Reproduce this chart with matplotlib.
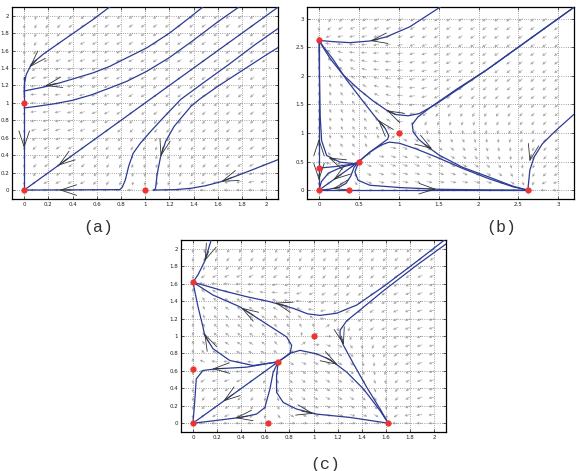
import numpy as np
import matplotlib
matplotlib.use('Agg')
import matplotlib.pyplot as plt

ALLEE_A = [2.0, 3.0, 2.236]
COMPETE_C = [1.0, 1.0, 0.2]
GRID_STEP = [0.1, 0.15, 0.1]
GRID_MAX = [2.0, 3.0, 2.0]

# panel (a)
A_EQ = [(0, 0), (1, 0), (0, 1)]
A_CURVE1 = [(0.738, 2.134), (0.572, 1.96), (0.433, 1.826), (0.294, 1.692), (0.155, 1.557),
            (0.058, 1.442), (0.017, 1.326), (0.003, 1.23), (0.0, 1.1)]
A_YAXIS = [(0.0, 1.3), (0.0, 0.0)]
A_CURVE2 = [(1.49, 2.115), (1.35, 1.96), (1.2, 1.8), (1.016, 1.634), (0.85, 1.519), (0.711, 1.422),
            (0.572, 1.346), (0.433, 1.288), (0.294, 1.23), (0.155, 1.18), (0.017, 1.142), (0.0, 1.135)]
A_CURVE3 = [(1.79, 2.115), (1.6, 1.93), (1.4, 1.72), (1.2, 1.52), (1.016, 1.365), (0.85, 1.249),
            (0.711, 1.173), (0.55, 1.09), (0.4, 1.03), (0.25, 0.99), (0.1, 0.96), (0.0, 0.942)]
A_DIAG = [(2.11, 2.11), (1.5, 1.5), (1.0, 1.0), (0.5, 0.5), (0.0, 0.0)]
A_CURVE5 = [(2.11, 1.865), (1.9, 1.66), (1.7, 1.45), (1.5, 1.25), (1.294, 1.04), (1.15, 0.83),
            (1.05, 0.68), (0.961, 0.539), (0.9, 0.42), (0.863, 0.269), (0.836, 0.115), (0.81, 0.03),
            (0.79, 0.005), (0.0, 0.0)]
A_CURVE6 = [(2.11, 1.645), (2.0, 1.55), (1.8, 1.37), (1.6, 1.19), (1.447, 1.04), (1.378, 0.96),
            (1.239, 0.73), (1.17, 0.56), (1.128, 0.384), (1.1, 0.19), (1.086, 0.02), (1.076, 0.0)]
A_CURVE7 = [(2.11, 0.355), (1.9, 0.24), (1.75, 0.16), (1.628, 0.096), (1.5, 0.05), (1.378, 0.02),
            (1.25, 0.005), (1.07, 0.0)]
A_ARROWS = [(0.1, 1.49, 0.045, 1.41), (0.27, 1.225, 0.17, 1.195), (0.0, 0.58, 0.0, 0.48),
            (0.36, 0.36, 0.28, 0.28), (0.39, 0.0, 0.29, 0.0), (1.15, 0.5, 1.128, 0.384),
            (1.72, 0.145, 1.628, 0.096)]

# panel (b)
B_EQ = [(0, 0), (0.382, 0), (0, 0.382), (0.5, 0.5), (1, 1), (2.618, 0), (0, 2.618)]
B_TOP = [(1.52, 3.2), (1.1375, 2.855), (0.846, 2.68), (0.6375, 2.607), (0.3875, 2.578),
         (0.179, 2.595), (0.0, 2.618)]
B_UPPER = [(3.2, 3.2), (2.6, 2.6), (2.1, 2.1), (1.75, 1.77), (1.45, 1.49), (1.26, 1.34), (1.12, 1.3),
           (0.97, 1.32), (0.845, 1.4), (0.678, 1.56), (0.5, 1.76), (0.3, 2.02), (0.14, 2.3),
           (0.05, 2.5), (0.0, 2.618)]
B_LOWER = [(3.2, 3.2), (2.6, 2.6), (2.1, 2.1), (1.72, 1.76), (1.42, 1.47), (1.24, 1.28), (1.17, 1.15),
           (1.18, 1.02), (1.25, 0.89), (1.35, 0.77), (1.51, 0.61), (1.8, 0.4), (2.13, 0.23),
           (2.43, 0.07), (2.618, 0.0)]
B_INNER = [(0.5, 0.5), (0.637, 0.664), (0.78, 0.81), (0.86, 0.89), (0.875, 0.95), (0.83, 1.08),
           (0.7, 1.29), (0.533, 1.587), (0.345, 1.93), (0.18, 2.28), (0.054, 2.51), (0.0, 2.618)]
B_MID = [(0.5, 0.5), (0.637, 0.664), (0.78, 0.79), (0.88, 0.84), (1.01, 0.82), (1.22, 0.72),
         (1.47, 0.58), (1.8, 0.38), (2.13, 0.2), (2.43, 0.06), (2.618, 0.0)]
B_BOTTOM = [(0.5, 0.5), (0.45, 0.32), (0.49, 0.173), (0.6375, 0.0865), (1.0125, 0.046),
            (1.51, 0.015), (2.13, 0.005), (2.618, 0.0)]
B_LEFT = [(0.5, 0.5), (0.45, 0.462), (0.2625, 0.49), (0.096, 0.606), (0.033, 0.865),
          (0.015, 1.3), (0.006, 2.0), (0.0, 2.618)]
B_YAXIS = [(0.0, 0.0), (0.0, 2.618)]
B_XAXIS = [(0.0, 0.0), (2.618, 0.0)]
B_RIGHT = [(3.2, 1.33), (2.967, 1.04), (2.8, 0.81), (2.697, 0.58), (2.643, 0.35), (2.618, 0.0)]
B_FAN1 = [(0.0, 0.386), (0.221, 0.415), (0.45, 0.462), (0.5, 0.5)]
B_FAN2 = [(0.0, 0.0), (0.5, 0.5)]
B_FAN3 = [(0.0, 0.0), (0.03, 0.15), (0.12, 0.3), (0.28, 0.4), (0.45, 0.46), (0.5, 0.5)]
B_FAN4 = [(0.5, 0.5), (0.44, 0.4), (0.4, 0.25), (0.34, 0.12), (0.25, 0.05), (0.12, 0.015), (0.0, 0.0)]
B_ARROWS = [(0.74, 2.63, 0.64, 2.608), (0.95, 1.325, 0.85, 1.395), (0.82, 1.1, 0.74, 1.23),
            (1.33, 0.8, 1.42, 0.72), (2.66, 0.62, 2.64, 0.5), (1.37, 0.022, 1.47, 0.018),
            (0.2, 0.52, 0.12, 0.57), (0.0, 0.8, 0.0, 0.9), (0.0, 0.27, 0.0, 0.17),
            (0.26, 0.26, 0.18, 0.18), (0.26, 0.052, 0.17, 0.022)]

# panel (c)
C_EQ = [(0, 0), (0.618, 0), (0, 0.618), (0.707, 0.705), (1, 1), (1.618, 0), (0, 1.618)]
C_TOP = [(0.153, 2.11), (0.097, 1.857), (0.042, 1.703), (0.0, 1.618)]
C_UPPER = [(2.11, 2.13), (1.856, 1.858), (1.579, 1.568), (1.357, 1.356), (1.191, 1.262),
           (1.053, 1.237), (0.95, 1.255), (0.831, 1.318), (0.638, 1.394), (0.444, 1.452),
           (0.222, 1.53), (0.1, 1.58), (0.0, 1.618)]
C_LOWER = [(2.11, 2.07), (1.856, 1.815), (1.579, 1.52), (1.385, 1.30), (1.274, 1.175), (1.219, 1.067),
           (1.219, 0.99), (1.247, 0.894), (1.33, 0.682), (1.44, 0.412), (1.551, 0.162), (1.618, 0.0)]
C_INNER = [(0.0, 1.618), (0.166, 1.471), (0.388, 1.336), (0.582, 1.163), (0.776, 0.99),
           (0.818, 0.894), (0.804, 0.797), (0.707, 0.705)]
C_LEFT = [(0.0, 1.618), (0.042, 1.336), (0.083, 1.105), (0.097, 1.009), (0.166, 0.855),
          (0.305, 0.72), (0.499, 0.662), (0.707, 0.705)]
C_MID_L = [(0.707, 0.705), (0.444, 0.643), (0.194, 0.624), (0.083, 0.605), (0.028, 0.509),
           (0.014, 0.238), (0.0, 0.0)]
C_DIAG = [(0.707, 0.705), (0.0, 0.0)]
C_LOW_L = [(0.707, 0.705), (0.665, 0.585), (0.638, 0.393), (0.596, 0.18), (0.527, 0.104),
           (0.388, 0.065), (0.166, 0.027), (0.0, 0.0)]
C_LOW_R = [(0.707, 0.705), (0.693, 0.55), (0.693, 0.354), (0.748, 0.238), (0.859, 0.162),
           (1.026, 0.104), (1.302, 0.066), (1.618, 0.0)]
C_MID_R = [(0.707, 0.705), (0.8, 0.8), (0.887, 0.836), (1.026, 0.795), (1.136, 0.73),
           (1.274, 0.586), (1.413, 0.393), (1.551, 0.143), (1.618, 0.0)]
C_ARROWS = [(0.13, 1.97, 0.097, 1.86), (0.78, 1.345, 0.68, 1.383), (0.5, 1.24, 0.4, 1.325),
            (0.13, 0.93, 0.095, 1.03), (1.23, 1.0, 1.25, 0.9), (1.1, 0.75, 1.2, 0.67),
            (0.26, 0.63, 0.16, 0.624), (0.33, 0.33, 0.25, 0.25), (0.45, 0.08, 0.35, 0.06),
            (0.9, 0.14, 1.0, 0.11)]

PANELS = [
    dict(curves=[A_CURVE1, A_YAXIS, A_CURVE2, A_CURVE3, A_DIAG, A_CURVE5, A_CURVE6, A_CURVE7],
         arrows=A_ARROWS, eq=A_EQ, lim=(-0.1, 2.1), ticks=np.arange(0, 2.01, 0.2), label='(a)'),
    dict(curves=[B_TOP, B_UPPER, B_LOWER, B_INNER, B_MID, B_BOTTOM, B_LEFT, B_YAXIS, B_XAXIS,
                 B_RIGHT, B_FAN1, B_FAN2, B_FAN3, B_FAN4],
         arrows=B_ARROWS, eq=B_EQ, lim=(-0.15, 3.2), ticks=np.arange(0, 3.01, 0.5), label='(b)'),
    dict(curves=[C_TOP, C_UPPER, C_LOWER, C_INNER, C_LEFT, C_MID_L, C_DIAG, C_LOW_L, C_LOW_R, C_MID_R],
         arrows=C_ARROWS, eq=C_EQ, lim=(-0.1, 2.1), ticks=np.arange(0, 2.01, 0.2), label='(c)'),
]

AX_RECTS = [[0.021, 0.578, 0.462, 0.407], [0.533, 0.578, 0.464, 0.407], [0.314, 0.083, 0.461, 0.407]]
LABEL_POS = [(0.170, 0.518), (0.870, 0.516), (0.564, 0.013)]

LINE_COLOR = '#2c3b94'


def draw_field(ax, a, c, step, top):
    g = np.arange(0, top + step / 2, step)
    x, y = np.meshgrid(g, g)
    u = x * (-x ** 2 + a * x - 1 - c * y ** 2)
    v = y * (-y ** 2 + a * y - 1 - c * x ** 2)
    n = np.hypot(u, v)
    n[n == 0] = 1
    ax.quiver(x, y, u / n, v / n, angles='xy', scale_units='xy', scale=1 / (step * 0.5),
              color='#a6a6a6', width=0.0025, headwidth=4.5, headlength=4.5, headaxislength=4,
              zorder=1)


fig = plt.figure(figsize=(5.76, 4.71), dpi=100)

for i, p in enumerate(PANELS):
    ax = fig.add_axes(AX_RECTS[i])
    draw_field(ax, ALLEE_A[i], COMPETE_C[i], GRID_STEP[i], GRID_MAX[i])
    for cv in p['curves']:
        xs, ys = zip(*cv)
        ax.plot(xs, ys, color=LINE_COLOR, lw=0.9, zorder=3)
    for x0, y0, x1, y1 in p['arrows']:
        ax.annotate('', xy=(x1, y1), xytext=(x0, y0),
                    arrowprops=dict(arrowstyle='->,head_length=1.15,head_width=0.38',
                                    color='#333333', lw=0.6, shrinkA=0, shrinkB=0), zorder=4)
    ex, ey = zip(*p['eq'])
    ax.plot(ex, ey, 'o', color='#ee3333', ms=4.5, mec='none', zorder=5, clip_on=False)
    ax.set_xlim(p['lim'])
    ax.set_ylim(p['lim'])
    ax.set_xticks(p['ticks'])
    ax.set_yticks(p['ticks'])
    ax.set_xticklabels([f'{t:g}' for t in p['ticks']])
    ax.set_yticklabels([f'{t:g}' for t in p['ticks']])
    ax.tick_params(direction='in', length=2, width=0.5, labelsize=4, pad=2, top=True, right=True,
                   colors='#222222')
    ax.grid(True, linestyle=':', color='#888888', lw=0.6)
    for s in ax.spines.values():
        s.set_linewidth(0.9)
    fig.text(LABEL_POS[i][0], LABEL_POS[i][1], p['label'], ha='center', va='center',
             fontsize=12, family='Liberation Mono', color='#333333')

fig.savefig('out.png', dpi=100)
